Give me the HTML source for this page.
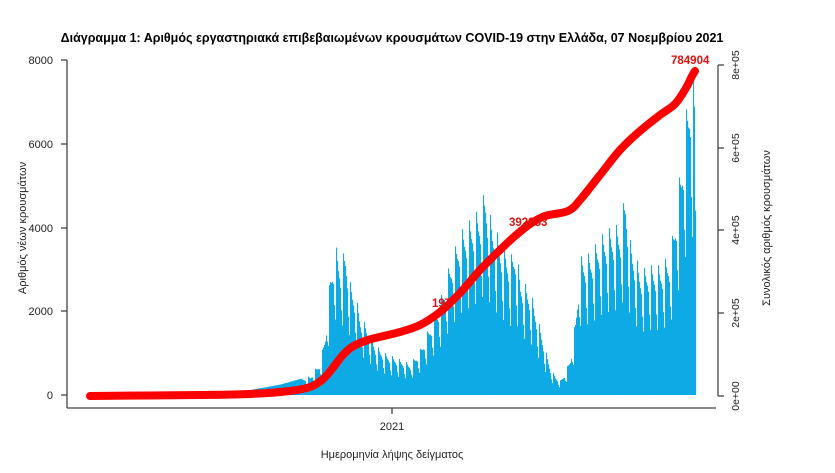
<!DOCTYPE html>
<html><head><meta charset="utf-8"><style>
body{margin:0;background:#fff;}
svg{display:block;font-family:"Liberation Sans","DejaVu Sans",sans-serif;}
</style></head><body>
<svg id="s" width="835" height="473" viewBox="0 0 835 473">
<text x="392" y="42" text-anchor="middle" font-size="12.5" font-weight="bold" fill="#000">Διάγραμμα 1: Αριθμός εργαστηριακά επιβεβαιωμένων κρουσμάτων COVID-19 στην Ελλάδα, 07 Νοεμβρίου 2021</text>
<g id="bars" fill="#0eaae6"></g>
<g stroke="#444" stroke-width="1.3" fill="none">
<line x1="67" y1="60" x2="67" y2="408"/>
<line x1="67" y1="408" x2="716" y2="408"/>
<line x1="61" y1="60" x2="67" y2="60"/><line x1="61" y1="144" x2="67" y2="144"/><line x1="61" y1="228" x2="67" y2="228"/><line x1="61" y1="311" x2="67" y2="311"/><line x1="61" y1="395" x2="67" y2="395"/>
<line x1="392" y1="408" x2="392" y2="414"/>
<line x1="718" y1="65" x2="718" y2="396"/>
<line x1="718" y1="65" x2="724" y2="65"/><line x1="718" y1="148" x2="724" y2="148"/><line x1="718" y1="230" x2="724" y2="230"/><line x1="718" y1="313" x2="724" y2="313"/><line x1="718" y1="396" x2="724" y2="396"/>
</g>
<g font-size="11" fill="#222" text-anchor="end">
<text x="53" y="64">8000</text><text x="53" y="148">6000</text><text x="53" y="232">4000</text><text x="53" y="315">2000</text><text x="53" y="399">0</text>
</g>
<g font-size="10.5" fill="#222" text-anchor="middle">
<text transform="translate(739,65) rotate(-90)">8e+05</text>
<text transform="translate(739,148) rotate(-90)">6e+05</text>
<text transform="translate(739,230) rotate(-90)">4e+05</text>
<text transform="translate(739,313) rotate(-90)">2e+05</text>
<text transform="translate(739,396) rotate(-90)">0e+00</text>
<text x="392" y="430" font-size="11">2021</text>
<text x="392" y="458" font-size="11">Ημερομηνία λήψης δείγματος</text>
<text transform="translate(26,228) rotate(-90)" font-size="11">Αριθμός νέων κρουσμάτων</text>
<text transform="translate(770,228) rotate(-90)" font-size="11">Συνολικός αριθμός κρουσμάτων</text>
</g>
<path id="cum" fill="none" stroke="#f00" stroke-width="8" stroke-linecap="round" stroke-linejoin="round" d=""/>
<g font-size="11.5" font-weight="bold" fill="#e01010">
<text x="671" y="64">784904</text>
<text x="509" y="226">392853</text>
<text x="432" y="307">197</text>
</g>
</svg>
<script>
var k=[[90,20],[200,30],[230,60],[250,120],[280,250],[310,450],[320,800],[325,1500],[330,2900],[335,3600],[340,3200],[345,3500],[350,2700],[355,2400],[360,1900],[368,1600],[375,1200],[385,1000],[400,850],[410,750],[420,1100],[430,1700],[440,2300],[450,3200],[460,3900],[470,4200],[480,4500],[485,4950],[490,4300],[500,3700],[510,3300],[515,3600],[520,2800],[530,2500],[540,1600],[545,1100],[550,650],[555,450],[560,350],[565,550],[570,900],[575,1800],[580,3300],[590,3400],[600,3800],[610,4000],[620,4100],[625,4900],[630,3700],[640,3000],[650,3100],[660,3100],[670,3400],[675,4400],[680,5400],[685,6600],[690,7700],[694,7400],[695,5000]];
var m=[1,0.93,0.88,0.85,0.8,0.62,0.5],g=document.getElementById('bars'),h='';
function f(x){for(var i=0;i<k.length-1;i++){if(x>=k[i][0]&&x<=k[i+1][0]){var t=(x-k[i][0])/(k[i+1][0]-k[i][0]);return k[i][1]+t*(k[i+1][1]-k[i][1]);}}return 0;}
for(var x=90;x<=696;x++){var v=f(x)*(x>300?m[x%7]:1);var hh=v/8000*335;h+='<rect x="'+x+'" y="'+(395-hh).toFixed(1)+'" width="1.1" height="'+hh.toFixed(1)+'"/>';}
g.innerHTML=h;
var p=[[90,396],[200,395],[250,394],[290,391],[310,387],[322,380],[332,369],[342,356],[352,347],[368,340],[400,332],[420,325],[440,312],[460,293],[480,270],[500,250],[515,236],[530,224],[545,216],[568,211],[580,200],[600,175],[620,150],[640,131],[660,115],[675,104],[686,88],[692,76],[695,71]];
var d='M'+p[0][0]+','+p[0][1];
for(var i=0;i<p.length-1;i++){var a=p[i-1]||p[i],b=p[i],c=p[i+1],e=p[i+2]||c;
d+=' C'+(b[0]+(c[0]-a[0])/6).toFixed(1)+','+(b[1]+(c[1]-a[1])/6).toFixed(1)+' '+(c[0]-(e[0]-b[0])/6).toFixed(1)+','+(c[1]-(e[1]-b[1])/6).toFixed(1)+' '+c[0]+','+c[1];}
document.getElementById('cum').setAttribute('d',d);
</script>
</body></html>
